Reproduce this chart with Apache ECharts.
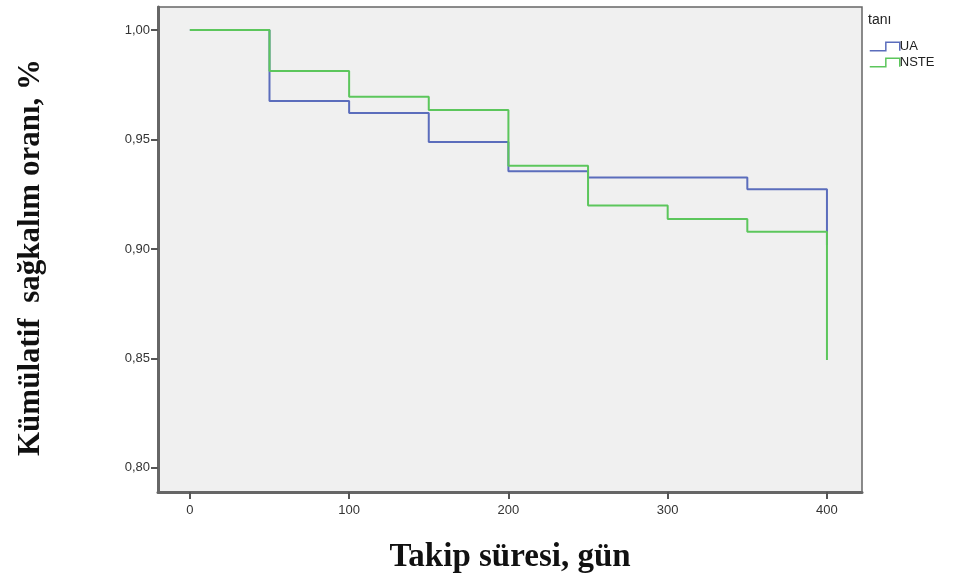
<!DOCTYPE html>
<html>
<head>
<meta charset="utf-8">
<script src="https://cdn.jsdelivr.net/npm/echarts@6/dist/echarts.min.js"></script>
<style>html,body{margin:0;padding:0;background:#fff}#c{width:954px;height:578px}</style>
</head>
<body>
<div id="c"></div>
<script>
var days = [0, 50, 100, 150, 200, 250, 300, 350, 400];
var uaValues   = [1.000, 0.9676, 0.9621, 0.9489, 0.9355, 0.9326, 0.9326, 0.9273, 0.9018];
var nsteValues = [1.000, 0.9813, 0.9695, 0.9635, 0.9380, 0.9198, 0.9137, 0.9079, 0.8493];
var xTicks = [0, 100, 200, 300, 400];
var yTicks = [0.80, 0.85, 0.90, 0.95, 1.00];
var seriesNames = ['UA', 'NSTE'];
var seriesColors = ['#5b6dbc', '#5cc65c'];
var legendTitle = 'tanı';
var xTitle = 'Takip süresi, gün';
var yTitle = 'Kümülatif  sağkalım oranı, %';

function pairs(vals){ return days.map(function(d,i){ return [d, vals[i]]; }); }

var chart = echarts.init(document.getElementById('c'), null, {renderer:'canvas'});
var stepIcon = 'path://M0,9 L15,9 L15,1 L28,1 L28,9';
chart.setOption({
  animation: false,
  backgroundColor: '#ffffff',
  grid: { left: 158, top: 7, right: 92, bottom: 86, outerBoundsMode: 'none', containLabel: false,
    show: true, backgroundColor: '#f0f0f0', borderColor: '#666', borderWidth: 1.5 },
  xAxis: {
    type: 'value', min: -20, max: 422,
    axisLine: { show: true, onZero: false, lineStyle: { color: '#666', width: 3 } },
    axisTick: { show: true, customValues: xTicks, length: 7, lineStyle: { color: '#555', width: 2 } },
    axisLabel: { customValues: xTicks, color: '#333', fontFamily: 'Liberation Sans', fontSize: 13, margin: 12 },
    splitLine: { show: false },
    name: xTitle, nameLocation: 'middle', nameGap: 49,
    nameTextStyle: { fontFamily: 'Liberation Serif', fontWeight: 'bold', fontSize: 33, color: '#111' }
  },
  yAxis: {
    type: 'value', min: 0.789, max: 1.0105,
    axisLine: { show: true, onZero: false, lineStyle: { color: '#666', width: 3 } },
    axisTick: { show: true, customValues: yTicks, length: 7, lineStyle: { color: '#555', width: 2 } },
    axisLabel: { customValues: yTicks, color: '#333', fontFamily: 'Liberation Sans', fontSize: 13, margin: 8,
      formatter: function(v){ return v.toFixed(2).replace('.', ','); } },
    splitLine: { show: false },
    name: yTitle, nameLocation: 'middle', nameGap: 112, nameRotate: 90,
    nameTextStyle: { fontFamily: 'Liberation Serif', fontWeight: 'bold', fontSize: 31, color: '#111', padding: [0, 16, 0, 0] }
  },
  legend: {
    left: 864, top: 35, orient: 'vertical', itemGap: 3, itemWidth: 30, itemHeight: 10,
    textStyle: { fontFamily: 'Liberation Sans', fontSize: 13, color: '#222', padding: [0,0,0,-5] },
    data: seriesNames.map(function(n, i){
      return { name: n, icon: stepIcon, itemStyle: { color: 'rgba(0,0,0,0)', borderColor: seriesColors[i], borderWidth: 1.5 } };
    })
  },
  graphic: [{ type: 'text', left: 868, top: 13, style: { text: legendTitle, fontFamily: 'Liberation Sans', fontSize: 14, fill: '#222' } }],
  series: [
    { name: seriesNames[0], type: 'line', step: 'end', data: pairs(uaValues), showSymbol: false, symbol: 'none',
      lineStyle: { color: seriesColors[0], width: 2 }, itemStyle: { color: seriesColors[0] } },
    { name: seriesNames[1], type: 'line', step: 'end', data: pairs(nsteValues), showSymbol: false, symbol: 'none',
      lineStyle: { color: seriesColors[1], width: 2 }, itemStyle: { color: seriesColors[1] } }
  ]
});
</script>
</body>
</html>
